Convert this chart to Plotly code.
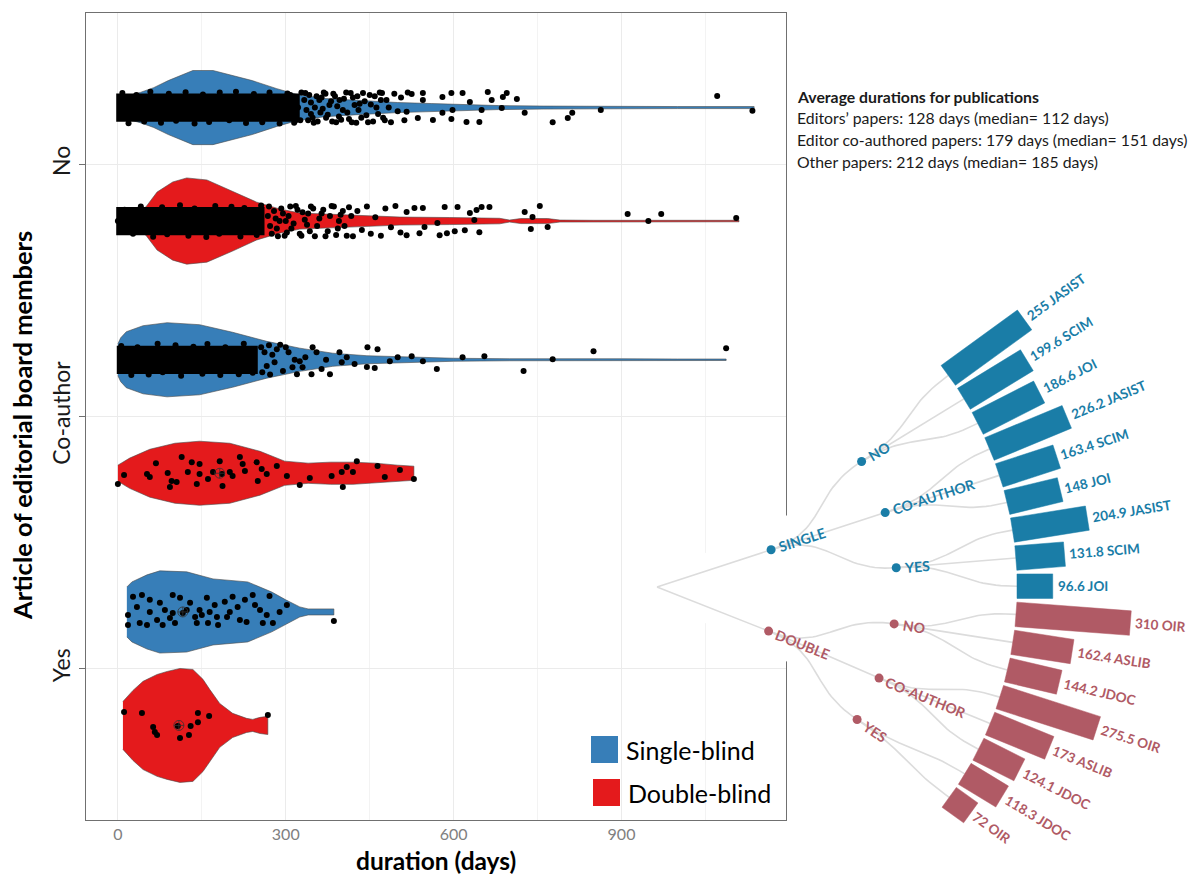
import math
import plotly.graph_objects as go

FIG_W, FIG_H = 1193, 875

# ---------------- violin chart data ----------------
categories = ["Yes", "Co-author", "No"]          # y = 1, 2, 3
x_ticks = [0, 300, 600, 900]
x_minor_ticks = [150, 450, 750, 1050]
groups = ["Single-blind", "Double-blind"]
group_colors = ["#377EB8", "#E41A1C"]

# violin outlines: duration (days) and half-width (in category units)
no_single_days = [0, 20, 40, 64, 90, 115, 134, 170, 200, 240, 284, 320, 370, 430, 500, 560, 620, 680, 760, 860, 1000, 1137]
no_single_hw = [0.032, 0.048, 0.060, 0.079, 0.107, 0.131, 0.147, 0.147, 0.131, 0.107, 0.075, 0.052, 0.036, 0.028, 0.020, 0.016, 0.012, 0.008, 0.006, 0.004, 0.004, 0.004]
no_double_days = [0, 30, 50, 70, 98, 123, 159, 205, 248, 289, 325, 414, 504, 593, 682, 700, 720, 768, 790, 850, 1110]
no_double_hw = [0.020, 0.028, 0.056, 0.115, 0.155, 0.171, 0.163, 0.119, 0.075, 0.048, 0.032, 0.024, 0.016, 0.014, 0.011, 0.004, 0.010, 0.010, 0.004, 0.003, 0.003]
co_single_days = [0, 5, 15, 45, 88, 146, 205, 266, 325, 384, 445, 504, 540, 600, 700, 800, 900, 1000, 1087]
co_single_hw = [0.063, 0.087, 0.111, 0.135, 0.147, 0.139, 0.109, 0.073, 0.046, 0.026, 0.016, 0.012, 0.010, 0.006, 0.004, 0.005, 0.004, 0.003, 0.003]
co_double_days = [0, 10, 21, 57, 102, 146, 200, 254, 298, 340, 380, 420, 460, 500, 529]
co_double_hw = [0.032, 0.044, 0.060, 0.095, 0.119, 0.127, 0.119, 0.087, 0.048, 0.040, 0.044, 0.044, 0.040, 0.032, 0.028]
yes_single_days = [16, 25, 52, 75, 123, 170, 232, 275, 300, 325, 340, 386]
yes_single_hw = [0.099, 0.119, 0.147, 0.163, 0.159, 0.131, 0.119, 0.079, 0.048, 0.020, 0.012, 0.012]
yes_double_days = [9, 27, 45, 70, 88, 111, 134, 152, 164, 182, 205, 230, 241, 254, 268]
yes_double_hw = [0.095, 0.139, 0.175, 0.202, 0.214, 0.226, 0.222, 0.183, 0.143, 0.087, 0.048, 0.028, 0.024, 0.032, 0.036]

# saturated point clouds (day range where the jittered points overlap completely)
no_single_dense = [-3, 325]
no_double_dense = [-3, 262]
co_single_dense = [-2, 250]

# individual jittered points: (duration days, vertical jitter in category units)
no_single_points = [(8, 0.058), (19, -0.062), (33, 0.05), (47, -0.055), (58, 0.063), (77, -0.06), (91, 0.055),
    (104, -0.052), (121, 0.061), (137, -0.063), (152, 0.052), (163, -0.057), (182, 0.06), (199, -0.05), (211, 0.063),
    (229, -0.061), (243, 0.054), (258, -0.058), (271, 0.06), (289, -0.063), (303, 0.056), (317, -0.052),
    (302, -0.04), (306, 0.02), (308, 0.05), (315, -0.06), (318, -0.02), (322, 0.0), (326, -0.05), (328, 0.06),
    (333, 0.03), (337, -0.01), (342, 0.05), (348, -0.04), (352, 0.0), (357, -0.055), (364, 0.04), (366, -0.005),
    (371, 0.055), (375, -0.028), (381, 0.025), (383, -0.055), (388, 0.045), (392, 0.005), (399, -0.048), (404, 0.035),
    (410, -0.02), (416, 0.058), (418, -0.058), (423, 0.01), (428, 0.045), (435, -0.04), (441, 0.025), (447, -0.058),
    (452, 0.012), (459, 0.045), (465, -0.025), (472, 0.058), (477, -0.05), (484, 0.0),
    (335, 0.058), (340, -0.05), (345, 0.02), (345, -0.025), (350, -0.06), (355, 0.045), (360, 0.03), (362, -0.02),
    (368, 0.06), (372, -0.04), (378, 0.01), (385, 0.055), (390, -0.058), (395, -0.035), (396, 0.03), (402, -0.01),
    (408, 0.06), (413, -0.045), (420, 0.04), (426, -0.06), (430, -0.01), (432, 0.015), (438, 0.058), (444, -0.03),
    (450, 0.05), (456, -0.055), (462, 0.0), (468, 0.06), (470, 0.03), (474, -0.04), (480, 0.03), (488, -0.058),
    (494, 0.055), (500, -0.015), (506, 0.04), (512, -0.05), (518, 0.06), (516, -0.017), (525, 0.054), (536, -0.041),
    (545, 0.058), (545, 0.03), (563, -0.049), (580, 0.042), (580, -0.021), (596, 0.058), (596, -0.045), (598, -0.01),
    (616, 0.058), (623, -0.057), (629, 0.022), (646, -0.057), (650, -0.01), (661, 0.062), (668, 0.03), (686, -0.002),
    (688, 0.042), (695, 0.058), (713, 0.034), (727, -0.021), (777, -0.058), (804, -0.041), (812, -0.021), (863, -0.01),
    (1071, 0.046), (1134, -0.013)]
no_double_points = [(0, 0.0), (12, 0.045), (27, -0.05), (41, 0.058), (63, -0.062), (79, 0.055), (88, -0.052),
    (111, 0.063), (126, -0.058), (137, 0.05), (158, -0.063), (174, 0.06), (181, -0.05), (203, 0.057), (219, -0.061),
    (226, 0.052), (248, -0.055), (256, 0.062),
    (268, 0.02), (272, -0.02), (279, 0.04), (284, -0.03), (289, 0.0), (295, 0.03), (302, -0.045), (308, 0.058),
    (314, -0.01), (321, 0.045), (328, -0.058), (334, 0.005), (343, -0.04), (349, 0.05), (356, -0.02), (364, 0.03),
    (371, -0.06), (379, 0.02), (386, 0.058), (393, -0.03), (402, 0.04), (409, -0.058), (417, 0.02),
    (270, 0.058), (275, -0.05), (282, 0.01), (286, -0.06), (292, 0.05), (298, -0.058), (300, 0.0), (305, 0.02),
    (310, -0.03), (318, 0.06), (325, -0.05), (330, 0.035), (338, -0.015), (340, 0.03), (345, 0.058), (352, -0.06),
    (360, 0.01), (367, 0.045), (375, -0.04), (382, 0.06), (390, -0.055), (395, 0.0), (398, 0.025), (405, -0.02),
    (413, 0.055), (420, -0.06), (428, 0.04), (436, -0.035), (445, 0.058), (452, -0.05), (460, 0.015), (470, -0.058),
    (478, 0.05), (488, -0.025), (496, 0.06), (505, -0.045), (516, 0.036), (530, 0.052), (545, 0.052), (548, -0.024),
    (516, -0.056), (539, -0.048), (571, -0.008), (575, -0.056), (584, 0.056), (588, -0.048), (602, -0.04), (607, 0.056),
    (620, -0.036), (629, 0.032), (637, 0.004), (641, 0.044), (650, 0.056), (646, -0.044), (664, 0.056), (727, 0.036),
    (741, 0.016), (754, 0.06), (738, -0.032), (768, -0.024), (911, 0.028), (948, 0.0), (971, 0.028), (1105, 0.012)]
co_single_points = [(6, 0.055), (24, -0.06), (35, 0.05), (55, -0.058), (71, 0.063), (80, -0.05), (103, 0.058),
    (113, -0.063), (135, 0.052), (151, -0.055), (160, 0.062), (183, -0.06), (192, 0.05), (216, -0.057), (225, 0.063),
    (241, -0.052),
    (256, 0.05), (258, -0.05), (262, 0.03), (272, -0.058), (280, -0.01), (300, 0.05), (316, 0.0), (330, -0.03),
    (355, 0.03), (372, 0.0),
    (266, -0.025), (270, 0.058), (276, 0.02), (284, 0.042), (290, 0.06), (295, -0.045), (305, 0.03),
    (312, -0.03), (320, -0.057), (325, -0.006), (335, 0.01), (346, -0.057), (348, 0.05), (364, -0.037), (379, -0.057),
    (396, 0.03), (400, -0.01), (409, 0.01), (423, -0.017), (445, -0.029), (446, 0.05), (459, -0.033), (464, 0.042),
    (486, -0.006), (500, 0.01), (525, 0.014), (545, -0.006), (570, -0.037), (616, 0.01), (655, 0.014), (725, -0.045),
    (777, 0.002), (850, 0.034), (1087, 0.046)]
co_double_points = [(0, -0.043), (11, -0.007), (52, -0.003), (57, -0.015), (68, 0.04), (89, 0.001), (96, -0.031),
    (93, -0.055), (105, -0.035), (114, 0.064), (125, 0.005), (132, 0.044), (141, -0.043), (146, 0.037), (146, -0.003),
    (161, -0.023), (170, 0.005), (182, 0.048), (186, -0.003), (187, -0.051), (200, 0.005), (205, -0.011), (218, 0.064),
    (223, 0.037), (227, 0.009), (248, 0.044), (250, -0.031), (257, 0.017), (266, -0.003), (284, 0.029), (302, -0.011),
    (325, -0.047), (343, -0.019), (382, -0.011), (400, 0.005), (402, -0.055), (409, 0.025), (420, 0.005), (427, 0.048),
    (464, 0.029), (477, -0.015), (504, 0.013), (529, -0.023)]
yes_single_points = [(18, -0.012), (18, -0.052), (39, -0.044), (52, -0.052), (70, -0.032), (84, 0.008), (80, -0.052),
    (98, -0.004), (102, -0.044), (116, -0.004), (123, 0.008), (141, -0.044), (146, 0.008), (150, -0.012), (161, -0.044),
    (177, -0.02), (179, -0.052), (195, -0.02), (214, 0.02), (218, -0.032), (230, -0.04), (259, -0.044), (266, -0.012),
    (277, -0.044), (302, 0.028), (386, -0.036), (43, 0.067), (27, 0.06), (98, 0.067), (159, 0.056), (205, 0.06),
    (241, 0.067), (271, 0.063), (57, 0.048), (129, 0.036), (173, 0.028), (227, 0.048), (75, 0.036), (111, 0.056),
    (191, 0.04), (245, 0.028), (34, 0.02), (138, -0.02), (200, 0.0), (254, 0.008), (93, -0.024), (57, 0.0), (289, 0.0),
    (164, 0.0)]
yes_double_points = [(11, 0.053), (43, 0.049), (63, -0.006), (66, -0.026), (70, -0.038), (107, -0.002), (111, -0.05),
    (130, -0.002), (127, -0.038), (143, 0.049), (143, 0.013), (163, 0.037), (268, 0.041)]

# group means (crossed circles)
co_double_mean = 182
yes_single_mean = 116
yes_double_mean = 109

# ---------------- radial tree data ----------------
tree_review = ["SINGLE"] * 9 + ["DOUBLE"] * 8
tree_board = ["NO"] * 3 + ["CO-AUTHOR"] * 3 + ["YES"] * 3 + ["NO"] * 3 + ["CO-AUTHOR"] * 3 + ["YES"] * 2
tree_journal = ["JASIST", "SCIM", "JOI", "JASIST", "SCIM", "JOI", "JASIST", "SCIM", "JOI",
                "OIR", "ASLIB", "JDOC", "OIR", "ASLIB", "JDOC", "JDOC", "OIR"]
tree_days = [255, 199.6, 186.6, 226.2, 163.4, 148, 204.9, 131.8, 96.6,
             310, 162.4, 144.2, 275.5, 173, 124.1, 118.3, 72]
tree_colors = {"SINGLE": "#1a7da7", "DOUBLE": "#b05a65"}

summary_title = "Average durations for publications"
summary_lines = ["Editors\u2019 papers: 128 days (median= 112 days)",
                 "Editor co-authored papers: 179 days (median= 151 days)",
                 "Other papers: 212 days (median= 185 days)"]

# ---------------- style / layout constants ----------------
DODGE = 0.225
DENSE_HALF = 0.056
FONT = "Lato"

fig = go.Figure()

violins = [
    (3, 0, no_single_days, no_single_hw, no_single_dense, no_single_points, None),
    (3, 1, no_double_days, no_double_hw, no_double_dense, no_double_points, None),
    (2, 0, co_single_days, co_single_hw, co_single_dense, co_single_points, None),
    (2, 1, co_double_days, co_double_hw, None, co_double_points, co_double_mean),
    (1, 0, yes_single_days, yes_single_hw, None, yes_single_points, yes_single_mean),
    (1, 1, yes_double_days, yes_double_hw, None, yes_double_points, yes_double_mean),
]

for cat, g, days, hw, dense, pts, mean in violins:
    c = cat + (DODGE if g == 0 else -DODGE)
    xs = list(days) + list(reversed(days))
    ys = [c + h for h in hw] + [c - h for h in reversed(hw)]
    fig.add_trace(go.Scatter(x=xs, y=ys, fill="toself", fillcolor=group_colors[g], mode="lines",
                             line=dict(color="#4a4a4a", width=0.6), hoverinfo="skip", showlegend=False))
for cat, g, days, hw, dense, pts, mean in violins:
    c = cat + (DODGE if g == 0 else -DODGE)
    if dense is not None:
        fig.add_trace(go.Scatter(x=[dense[0], dense[1], dense[1], dense[0]],
                                 y=[c - DENSE_HALF, c - DENSE_HALF, c + DENSE_HALF, c + DENSE_HALF],
                                 fill="toself", fillcolor="black", mode="none",
                                 hoverinfo="skip", showlegend=False))
    fig.add_trace(go.Scatter(x=[p[0] for p in pts], y=[c + p[1] for p in pts], mode="markers",
                             marker=dict(color="black", size=6), hoverinfo="skip", showlegend=False))
    if mean is not None:
        fig.add_trace(go.Scatter(x=[mean], y=[c], mode="markers",
                                 marker=dict(symbol="circle-cross-open", size=10, color="#333333", line=dict(width=0.8)),
                                 hoverinfo="skip", showlegend=False))

# ---------------- radial tree (page-pixel overlay axes) ----------------
TCX, TCY = 657.0, 587.0
R_STEP = 120.0
ANG_FIRST, ANG_LAST = 36.0, -35.75
BAR_PX_PER_DAY = 0.37
BAR_WIDTH = 24.5

def polar(a, r):
    t = math.radians(a)
    return TCX + r * math.cos(t), TCY - r * math.sin(t)

n = len(tree_days)
leaf_a = [ANG_FIRST + (ANG_LAST - ANG_FIRST) * i / (n - 1) for i in range(n)]
l2_keys = []
for rv, bd in zip(tree_review, tree_board):
    if (rv, bd) not in l2_keys:
        l2_keys.append((rv, bd))
l2_a = {}
for k in l2_keys:
    angs = [leaf_a[i] for i in range(n) if (tree_review[i], tree_board[i]) == k]
    l2_a[k] = sum(angs) / len(angs)
l1_keys = []
for rv in tree_review:
    if rv not in l1_keys:
        l1_keys.append(rv)
l1_a = {}
for rv in l1_keys:
    angs = [l2_a[k] for k in l2_keys if k[0] == rv]
    l1_a[rv] = sum(angs) / len(angs)

def link(a0, r0, a1, r1, steps=30):
    rm = (r0 + r1) / 2
    p = [polar(a0, r0), polar(a0, rm), polar(a1, rm), polar(a1, r1)]
    xs, ys = [], []
    for s in range(steps + 1):
        t = s / steps
        b = [(1 - t) ** 3, 3 * (1 - t) ** 2 * t, 3 * (1 - t) * t ** 2, t ** 3]
        xs.append(sum(b[j] * p[j][0] for j in range(4)))
        ys.append(sum(b[j] * p[j][1] for j in range(4)))
    return xs, ys

# white mask where the tree panel overlaps the chart
fig.add_trace(go.Scatter(x=[648, 703, 792, 792, 703], y=[587, 554, 513, 664, 622], fill="toself",
                         fillcolor="white", mode="none", xaxis="x2", yaxis="y2", hoverinfo="skip", showlegend=False))

lx, ly = [], []
for rv in l1_keys:
    x1, y1 = polar(l1_a[rv], R_STEP)
    lx += [TCX, x1, None]; ly += [TCY, y1, None]
for k in l2_keys:
    xs, ys = link(l1_a[k[0]], R_STEP, l2_a[k], 2 * R_STEP)
    lx += xs + [None]; ly += ys + [None]
for i in range(n):
    k = (tree_review[i], tree_board[i])
    xs, ys = link(l2_a[k], 2 * R_STEP, leaf_a[i], 3 * R_STEP)
    lx += xs + [None]; ly += ys + [None]
fig.add_trace(go.Scatter(x=lx, y=ly, mode="lines", line=dict(color="#dcdcdc", width=1.6),
                         xaxis="x2", yaxis="y2", hoverinfo="skip", showlegend=False))

EM = {"0": .58, "1": .58, "2": .58, "3": .58, "4": .58, "5": .58, "6": .58, "7": .58, "8": .58, "9": .58,
      ".": .26, " ": .26, "-": .36, "A": .68, "B": .64, "C": .65, "D": .74, "E": .56, "G": .72, "H": .76,
      "I": .29, "J": .41, "L": .50, "M": .90, "N": .76, "O": .79, "R": .63, "S": .54, "T": .60, "U": .73, "Y": .64}

def text_w(s, size):
    return sum(EM.get(ch, 0.6) for ch in s) * size

LEAF_FS, NODE_FS = 13.5, 14
annotations = []
for rv in l1_keys:
    bx, by = [], []
    for i in range(n):
        if tree_review[i] != rv:
            continue
        a = leaf_a[i]
        r0 = 3 * R_STEP
        r1 = r0 + tree_days[i] * BAR_PX_PER_DAY
        t = math.radians(a)
        ux, uy = math.cos(t), -math.sin(t)
        vx, vy = math.sin(t), math.cos(t)
        hwid = BAR_WIDTH / 2
        corners = [(r0, -hwid), (r1, -hwid), (r1, hwid), (r0, hwid), (r0, -hwid)]
        for rr, ww in corners:
            bx.append(TCX + rr * ux + ww * vx)
            by.append(TCY + rr * uy + ww * vy)
        bx.append(None); by.append(None)
        label = f"{tree_days[i]:g} {tree_journal[i]}"
        lw = text_w(label, LEAF_FS)
        px, py = polar(a, r1 + 5 + lw / 2)
        annotations.append(dict(x=px, y=py, xref="x2", yref="y2", text=f"<b>{label}</b>", showarrow=False,
                                textangle=-a, xanchor="center", yanchor="middle",
                                font=dict(family=FONT, size=LEAF_FS, color=tree_colors[rv])))
    fig.add_trace(go.Scatter(x=bx, y=by, fill="toself", fillcolor=tree_colors[rv], mode="lines",
                             line=dict(color=tree_colors[rv], width=0.5),
                             xaxis="x2", yaxis="y2", hoverinfo="skip", showlegend=False))

node_pts = [(l1_a[rv], R_STEP, rv, rv) for rv in l1_keys] + [(l2_a[k], 2 * R_STEP, k[1], k[0]) for k in l2_keys]
for rv in l1_keys:
    pts = [polar(a, r) for a, r, lab, col in node_pts if col == rv]
    fig.add_trace(go.Scatter(x=[p[0] for p in pts], y=[p[1] for p in pts], mode="markers",
                             marker=dict(color=tree_colors[rv], size=9), xaxis="x2", yaxis="y2",
                             hoverinfo="skip", showlegend=False))
for a, r, lab, col in node_pts:
    lw = text_w(lab, NODE_FS)
    px, py = polar(a, r + 9 + lw / 2)
    annotations.append(dict(x=px, y=py, xref="x2", yref="y2", text=f"<b>{lab}</b>", showarrow=False,
                            textangle=-a, xanchor="center", yanchor="middle",
                            font=dict(family=FONT, size=NODE_FS, color=tree_colors[col])))

# summary text
annotations.append(dict(x=795, y=96, xref="x2", yref="y2", text=f"<b>{summary_title}</b>", showarrow=False,
                        xanchor="left", yanchor="middle", font=dict(family=FONT, size=15.8, color="#1a1a1a")))
for j, line in enumerate(summary_lines):
    annotations.append(dict(x=795, y=117 + 22 * j, xref="x2", yref="y2", text=line, showarrow=False,
                            xanchor="left", yanchor="middle", font=dict(family=FONT, size=15.8, color="#1a1a1a")))

# axis titles
annotations.append(dict(x=436, y=860, xref="x2", yref="y2", text="<b>duration (days)</b>", showarrow=False,
                        xanchor="center", yanchor="middle", font=dict(family=FONT, size=24.5, color="black")))
annotations.append(dict(x=22, y=426, xref="x2", yref="y2", text="<b>Article of editorial board members</b>",
                        showarrow=False, textangle=-90, xanchor="center", yanchor="middle",
                        font=dict(family=FONT, size=25.5, color="black")))

# legend (drawn inside the panel)
shapes = []
legend_rows = [(591, 736, 624, 750), (593, 779, 626, 793)]
for g, (sx, sy, tx, ty) in enumerate(legend_rows):
    shapes.append(dict(type="rect", xref="x2", yref="y2", x0=sx, x1=sx + 27, y0=sy, y1=sy + 27,
                       fillcolor=group_colors[g], line=dict(width=0)))
    annotations.append(dict(x=tx, y=ty, xref="x2", yref="y2", text=groups[g], showarrow=False,
                            xanchor="left", yanchor="middle", font=dict(family=FONT, size=25, color="black")))

fig.update_layout(
    width=FIG_W, height=FIG_H, margin=dict(l=0, r=0, t=0, b=0),
    paper_bgcolor="white", plot_bgcolor="rgba(0,0,0,0)",
    showlegend=False, annotations=annotations, shapes=shapes,
    xaxis=dict(domain=[86 / FIG_W, 786 / FIG_W], range=[-57, 1194], tickvals=x_ticks,
               ticktext=[str(v) for v in x_ticks], ticks="", showgrid=True, gridcolor="#ebebeb", gridwidth=1,
               minor=dict(tickvals=x_minor_ticks, showgrid=True, gridcolor="#f3f3f3", gridwidth=1, ticks=""),
               showline=True, mirror=True, linecolor="#707070", linewidth=1.3, zeroline=False,
               tickfont=dict(family=FONT, size=16, color="#808080"), fixedrange=True),
    yaxis=dict(domain=[1 - 820 / FIG_H, 1 - 13 / FIG_H], range=[0.4, 3.6], tickvals=[1, 2, 3],
               ticktext=categories, tickangle=-90, ticks="outside", ticklen=6, tickcolor="#707070",
               showgrid=True, gridcolor="#ebebeb", gridwidth=1, showline=True, mirror=True,
               linecolor="#707070", linewidth=1.3, zeroline=False,
               tickfont=dict(family=FONT, size=23, color="#1a1a1a"), fixedrange=True),
    xaxis2=dict(domain=[0, 1], range=[0, FIG_W], visible=False, anchor="y2", fixedrange=True),
    yaxis2=dict(domain=[0, 1], range=[FIG_H, 0], visible=False, anchor="x2", fixedrange=True),
)

fig.write_html("out.html", config={"displayModeBar": False},
               post_script="document.body.style.margin='0px';document.body.style.overflow='hidden';")
